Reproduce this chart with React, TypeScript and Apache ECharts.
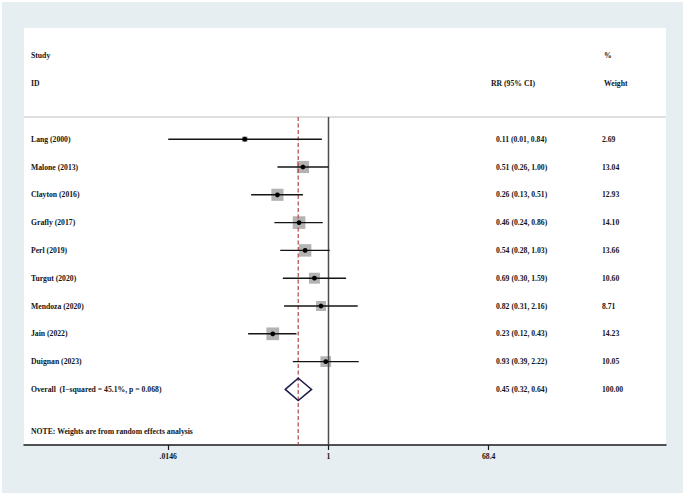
import React, { useEffect, useRef } from "react";
import * as echarts from "echarts";

// ---- data ----
const studies = [
  "Lang (2000)",
  "Malone (2013)",
  "Clayton (2016)",
  "Grafly (2017)",
  "Perl (2019)",
  "Turgut (2020)",
  "Mendoza (2020)",
  "Jain (2022)",
  "Duignan (2023)",
];
const rr = [0.11, 0.51, 0.26, 0.46, 0.54, 0.69, 0.82, 0.23, 0.93];
const lower = [0.01, 0.26, 0.13, 0.24, 0.28, 0.3, 0.31, 0.12, 0.39];
const upper = [0.84, 1.0, 0.51, 0.86, 1.03, 1.59, 2.16, 0.43, 2.22];
const weights = [2.69, 13.04, 12.93, 14.1, 13.66, 10.6, 8.71, 14.23, 10.05];

const overallLabel = "Overall  (I\u2212squared = 45.1%, p = 0.068)";
const overallRR = 0.45;
const overallLower = 0.32;
const overallUpper = 0.64;
const overallWeight = 100.0;

const tickValues = [0.0146, 1, 68.4];
const tickLabels = [".0146", "1", "68.4"];
const nullValue = 1;

const headerStudy = ["Study", "ID"];
const headerCI = "RR (95% CI)";
const headerWeight = ["%", "Weight"];
const noteText = "NOTE: Weights are from random effects analysis";

// ---- layout / style ----
const W = 685;
const H = 496;
const GRID_L = 24;
const GRID_R = 666;
const GRID_T = 28;
const GRID_B = 445;
const PX_PER_LN = 37.92;
const PX_ONE = 328.5;
const XMIN = (GRID_L - PX_ONE) / PX_PER_LN;
const XMAX = (GRID_R - PX_ONE) / PX_PER_LN;
const YMIN = -4;
const YMAX = 11;

const FONT = "Liberation Serif";
const FS = 7.7;
const FW = "bold";
const TXT = "#141414";
const COL_LABEL = 31;
const COL_CI = 496;
const COL_W = 602;
const COL_CI_HEAD = 491;
const COL_W_HEAD = 604;

const fmt = (v: number) => v.toFixed(2);
const lnMin = Math.log(tickValues[0]);
const lnMax = Math.log(tickValues[tickValues.length - 1]);

export default function App() {
  const ref = useRef<HTMLDivElement>(null);

  useEffect(() => {
    if (!ref.current) return;
    const chart = echarts.init(ref.current, null, { renderer: "svg" });

    const rows: any[] = studies.map((s, i) => [
      Math.log(rr[i]),
      i,
      Math.max(Math.log(lower[i]), lnMin),
      Math.min(Math.log(upper[i]), lnMax),
      weights[i],
      0,
    ]);
    rows.push([
      Math.log(overallRR),
      studies.length,
      Math.log(overallLower),
      Math.log(overallUpper),
      overallWeight,
      1,
    ]);
    const labels = [...studies, overallLabel];
    const ciTexts = [
      ...studies.map((_, i) => `${fmt(rr[i])} (${fmt(lower[i])}, ${fmt(upper[i])})`),
      `${fmt(overallRR)} (${fmt(overallLower)}, ${fmt(overallUpper)})`,
    ];
    const wTexts = [...weights.map(fmt), fmt(overallWeight)];

    const textStyle = (text: string) => ({
      text,
      fill: TXT,
      fontSize: FS,
      fontFamily: FONT,
      fontWeight: FW,
      verticalAlign: "middle",
      align: "left",
    });

    const option: any = {
      animation: false,
      backgroundColor: "#ffffff",
      grid: {
        left: GRID_L,
        right: W - GRID_R,
        top: GRID_T,
        bottom: H - GRID_B,
        show: true,
        backgroundColor: "#ffffff",
        borderWidth: 0,
      },
      xAxis: {
        type: "value",
        min: XMIN,
        max: XMAX,
        axisLine: { show: true, onZero: false, lineStyle: { color: "#1a1a1a", width: 1.5 } },
        axisTick: {
          show: true,
          customValues: tickValues.map(Math.log),
          length: 5,
          lineStyle: { color: "#1a1a1a", width: 1.2 },
        },
        axisLabel: {
          show: true,
          customValues: tickValues.map(Math.log),
          margin: 7,
          color: TXT,
          fontSize: FS,
          fontFamily: FONT,
          fontWeight: FW,
          formatter: (v: number) => {
            const k = tickValues.findIndex((t) => Math.abs(Math.log(t) - v) < 1e-6);
            return k >= 0 ? tickLabels[k] : "";
          },
        },
        splitLine: { show: false },
      },
      yAxis: {
        type: "value",
        inverse: true,
        min: YMIN,
        max: YMAX,
        show: false,
        splitLine: { show: false },
      },
      graphic: [
        { type: "rect", z: -10, shape: { x: 2, y: 2, width: 681, height: 491 }, style: { fill: "#e6eef1" } },
      ],
      series: [
        {
          // weight boxes
          type: "custom",
          z: 2,
          data: rows,
          encode: { x: 0, y: 1 },
          renderItem: (params: any, api: any) => {
            if (api.value(5) === 1) return null;
            const [cx, cy] = api.coord([api.value(0), api.value(1)]);
            const s = 3.37 * Math.sqrt(api.value(4));
            return {
              type: "rect",
              shape: { x: cx - s / 2, y: cy - s / 2, width: s, height: s },
              style: { fill: "#b3b3b3" },
            };
          },
        },
        {
          // reference lines
          type: "custom",
          z: 3,
          data: [[Math.log(nullValue), 0], [Math.log(overallRR), 1]],
          encode: { x: 0 },
          renderItem: (params: any, api: any) => {
            const x = api.coord([api.value(0), 0])[0];
            const yTop = api.coord([0, -0.8])[1];
            const yBot = api.coord([0, YMAX])[1];
            const children: any[] = [];
            if (api.value(1) === 0) {
              children.push({
                type: "line",
                shape: { x1: GRID_L, y1: yTop, x2: GRID_R, y2: yTop },
                style: { stroke: "#d4d4d4", lineWidth: 1.5 },
              });
              children.push({
                type: "line",
                shape: { x1: x, y1: yTop, x2: x, y2: yBot },
                style: { stroke: "#4d4d4d", lineWidth: 1.5 },
              });
            } else {
              children.push({
                type: "line",
                shape: { x1: x, y1: yTop, x2: x, y2: yBot },
                style: { stroke: "#b04848", lineWidth: 1.2, lineDash: [4, 2.5] },
              });
            }
            return { type: "group", children };
          },
        },
        {
          // CI lines, points, diamond, row texts
          type: "custom",
          z: 4,
          data: rows,
          encode: { x: 0, y: 1 },
          renderItem: (params: any, api: any) => {
            const i = params.dataIndex;
            const yv = api.value(1);
            const [cx, cy] = api.coord([api.value(0), yv]);
            const x1 = api.coord([api.value(2), yv])[0];
            const x2 = api.coord([api.value(3), yv])[0];
            const children: any[] = [];
            if (api.value(5) === 1) {
              const hh = api.size([0, 0.4])[1];
              children.push({
                type: "polygon",
                shape: { points: [[x1, cy], [cx, cy - hh], [x2, cy], [cx, cy + hh]] },
                style: { fill: "none", stroke: "#1c1c4c", lineWidth: 1.5 },
              });
            } else {
              children.push({
                type: "line",
                shape: { x1, y1: cy, x2, y2: cy },
                style: { stroke: "#151515", lineWidth: 1.4 },
              });
              children.push({
                type: "circle",
                shape: { cx, cy, r: 2.4 },
                style: { fill: "#000000" },
              });
            }
            children.push({ type: "text", x: COL_LABEL, y: cy, style: textStyle(labels[i]) });
            children.push({ type: "text", x: COL_CI, y: cy, style: textStyle(ciTexts[i]) });
            children.push({ type: "text", x: COL_W, y: cy, style: textStyle(wTexts[i]) });
            return { type: "group", children };
          },
        },
        {
          // headers and note
          type: "custom",
          z: 4,
          data: [[0, -3, 0], [0, -2, 1], [0, 10.5, 2]],
          encode: { y: 1 },
          renderItem: (params: any, api: any) => {
            const k = api.value(2);
            const cy = api.coord([0, api.value(1)])[1];
            const children: any[] = [];
            if (k === 0) {
              children.push({ type: "text", x: COL_LABEL, y: cy, style: textStyle(headerStudy[0]) });
              children.push({ type: "text", x: COL_W_HEAD, y: cy, style: textStyle(headerWeight[0]) });
            } else if (k === 1) {
              children.push({ type: "text", x: COL_LABEL, y: cy, style: textStyle(headerStudy[1]) });
              children.push({ type: "text", x: COL_CI_HEAD, y: cy, style: textStyle(headerCI) });
              children.push({ type: "text", x: COL_W_HEAD, y: cy, style: textStyle(headerWeight[1]) });
            } else {
              children.push({ type: "text", x: COL_LABEL, y: cy, style: textStyle(noteText) });
            }
            return { type: "group", children };
          },
        },
      ],
    };

    chart.setOption(option);
    return () => chart.dispose();
  }, []);

  return (
    <div
      ref={ref}
      style={{ position: "absolute", left: 0, top: 0, width: W, height: H }}
    />
  );
}
